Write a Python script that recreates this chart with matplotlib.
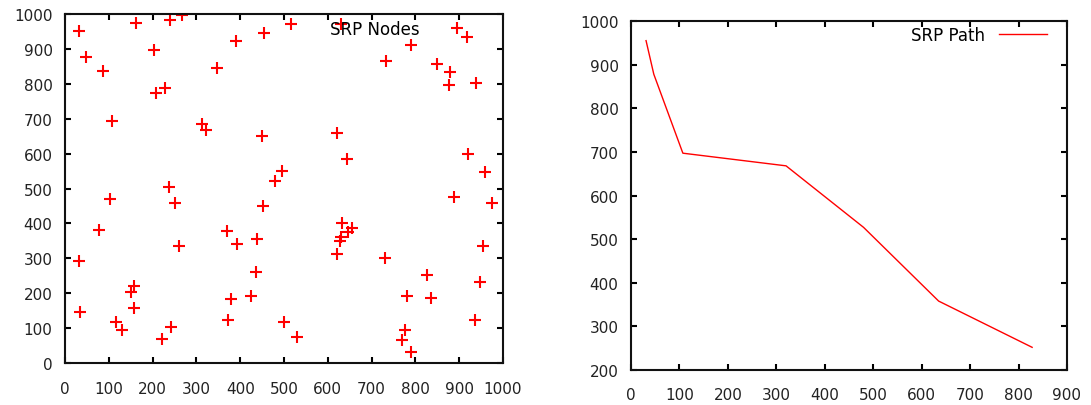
import matplotlib

matplotlib.use("Agg")
import matplotlib.pyplot as plt

# SRP node positions (left panel)
node_x = [32, 47, 87, 107, 161, 204, 208, 228, 240, 268, 312, 321, 348, 391,
          455, 450, 237, 517, 630, 790, 733, 849, 879, 877, 938, 917, 622,
          643, 919, 958, 495, 480, 887, 103, 252, 453, 78, 370, 260, 392, 438,
          32, 436, 158, 150, 157, 379, 425, 34, 117, 131, 243, 373, 221, 975,
          632, 655, 647, 630, 627, 620, 730, 955, 826, 781, 836, 947, 935, 500,
          530, 776, 769, 790]
node_y = [950, 876, 838, 694, 974, 897, 773, 787, 984, 998, 686, 667, 846, 922,
          945, 650, 503, 971, 972, 911, 866, 858, 833, 797, 801, 935, 659,
          585, 599, 546, 550, 522, 477, 470, 458, 449, 381, 377, 336, 341, 355,
          291, 262, 220, 203, 159, 183, 192, 147, 118, 94, 104, 123, 68, 458,
          401, 386, 374, 360, 350, 311, 301, 336, 252, 193, 187, 233, 124, 118,
          74, 94, 67, 31]

# SRP path (right panel)
path_x = [31, 47, 107, 320, 480, 635, 828]
path_y = [955, 878, 697, 668, 527, 358, 252]

RED = "#ff0000"


def style_axes(ax, xpad, ypad):
    ax.tick_params(direction="in", length=4, width=1.5, top=True, right=True,
                   labelsize=11, labelcolor="#222222")
    ax.tick_params(axis="x", pad=xpad)
    ax.tick_params(axis="y", pad=ypad)
    for spine in ax.spines.values():
        spine.set_linewidth(1.5)
        spine.set_color("#111111")


fig = plt.figure(figsize=(10.91, 4.06), dpi=100)

ax1 = fig.add_axes([0.0596, 0.1034, 0.4015, 0.8596])
ax1.plot(node_x, node_y, linestyle="none", marker="+", color=RED,
         markersize=8, markeredgewidth=1.5, label="SRP Nodes")
ax1.set_xlim(0, 1000)
ax1.set_ylim(0, 1000)
ax1.set_xticks(range(0, 1001, 100))
ax1.set_yticks(range(0, 1001, 100))
style_axes(ax1, 13, 9)
ax1.legend(loc="center right", bbox_to_anchor=(1 - 22 / 438, 1 - 15 / 349),
           frameon=False, markerfirst=False, borderpad=0, borderaxespad=0,
           handlelength=2.9, handletextpad=0.8, fontsize=12)

ax2 = fig.add_axes([0.5784, 0.0862, 0.3996, 0.8596])
ax2.plot(path_x, path_y, color=RED, linewidth=1.0, label="SRP Path")
ax2.set_xlim(0, 900)
ax2.set_ylim(200, 1000)
ax2.set_xticks(range(0, 901, 100))
ax2.set_yticks(range(200, 1001, 100))
style_axes(ax2, 12, 9)
ax2.legend(loc="center right", bbox_to_anchor=(1 - 20 / 436, 1 - 14 / 349),
           frameon=False, markerfirst=False, borderpad=0, borderaxespad=0,
           handlelength=2.9, handletextpad=0.8, fontsize=12)

fig.savefig("out.png", dpi=100)
